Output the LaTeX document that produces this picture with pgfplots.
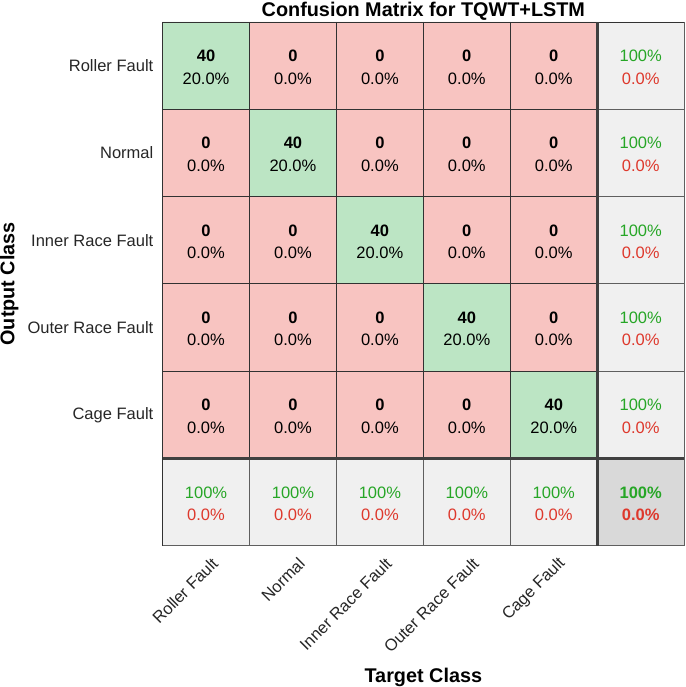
\documentclass[border=0pt]{standalone}
\usepackage{pgfplots}
\pgfplotsset{compat=1.18}
\usepackage{fontspec}
\setmainfont{Liberation Sans}

\definecolor{txtgreen}{RGB}{38,166,38}
\definecolor{txtred}{RGB}{222,56,44}
\definecolor{gridline}{RGB}{50,50,50}
\definecolor{thickline}{RGB}{64,64,64}
\definecolor{greyline}{RGB}{95,95,95}

\newcommand{\cellfont}{\fontsize{16.5}{19}\selectfont}
\newcommand{\labfont}{\bfseries\fontsize{19.8}{23}\selectfont}

\begin{document}
\begin{tikzpicture}
\begin{axis}[
  width=521pt, height=523pt, scale only axis,
  xmin=0.5, xmax=6.5, ymin=0.5, ymax=6.5,
  y dir=reverse,
  axis line style={draw=none},
  major tick length=0pt,
  xtick={1,2,3,4,5}, ytick={1,2,3,4,5},
  xticklabels={Roller Fault,Normal,Inner Race Fault,Outer Race Fault,Cage Fault},
  yticklabels={Roller Fault,Normal,Inner Race Fault,Outer Race Fault,Cage Fault},
  tick label style={font=\cellfont, text=black!85, inner sep=0pt},
  xticklabel style={xshift=9pt, yshift=-15pt, rotate=45, anchor=east},
  yticklabel style={xshift=-9pt, anchor=east},
  title={Confusion Matrix for TQWT+LSTM},
  title style={font=\labfont, at={(axis description cs:0.5,1)}, anchor=base, inner sep=0pt, text height=16pt},
  xlabel={Target Class},
  xlabel style={font=\labfont, at={(axis description cs:0.5,-0.26195)}, anchor=base, inner sep=0pt},
  ylabel={Output Class},
  ylabel style={font=\labfont, at={(axis description cs:-0.28407,0.5)}, anchor=base, inner sep=0pt},
  colormap={conf}{rgb255=(248,196,193) rgb255=(188,229,196) rgb255=(240,240,240) rgb255=(217,217,217)},
  clip=false,
]

% cell backgrounds: 0 wrong, 1 correct, 2 summary, 3 overall
\addplot[matrix plot*, mesh/cols=6, colormap access=direct, point meta=explicit] table[meta=c] {
x y c
1 1 1
2 1 0
3 1 0
4 1 0
5 1 0
6 1 2
1 2 0
2 2 1
3 2 0
4 2 0
5 2 0
6 2 2
1 3 0
2 3 0
3 3 1
4 3 0
5 3 0
6 3 2
1 4 0
2 4 0
3 4 0
4 4 1
5 4 0
6 4 2
1 5 0
2 5 0
3 5 0
4 5 0
5 5 1
6 5 2
1 6 2
2 6 2
3 6 2
4 6 2
5 6 2
6 6 3
};

% grid lines
\pgfplotsinvokeforeach{1.5,2.5,3.5,4.5}{
  \draw[gridline, line width=0.8pt] (axis cs:#1,0.5) -- (axis cs:#1,5.5);
  \draw[gridline, line width=0.8pt] (axis cs:0.5,#1) -- (axis cs:5.5,#1);
  \draw[greyline, line width=0.8pt] (axis cs:#1,5.5) -- (axis cs:#1,6.5);
  \draw[greyline, line width=0.8pt] (axis cs:5.5,#1) -- (axis cs:6.5,#1);
}
\draw[greyline, line width=0.8pt] (axis cs:0.5,6.5) -- (axis cs:6.5,6.5) -- (axis cs:6.5,0.5);
\draw[gridline, line width=0.8pt] (axis cs:0.5,6.5) -- (axis cs:0.5,0.5) -- (axis cs:6.5,0.5);
\draw[thickline, line width=3pt] (axis cs:5.5,0.5) -- (axis cs:5.5,6.5);
\draw[thickline, line width=3pt] (axis cs:0.5,5.5) -- (axis cs:6.5,5.5);

% counts
\addplot[draw=none, mark=none, nodes near coords, point meta=explicit symbolic,
  nodes near coords style={anchor=base, yshift=4pt, inner sep=0pt, font=\cellfont\bfseries, text=black}]
coordinates {
(1,1)[40] (2,1)[0] (3,1)[0] (4,1)[0] (5,1)[0]
(1,2)[0] (2,2)[40] (3,2)[0] (4,2)[0] (5,2)[0]
(1,3)[0] (2,3)[0] (3,3)[40] (4,3)[0] (5,3)[0]
(1,4)[0] (2,4)[0] (3,4)[0] (4,4)[40] (5,4)[0]
(1,5)[0] (2,5)[0] (3,5)[0] (4,5)[0] (5,5)[40]
};
% percentages of total
\addplot[draw=none, mark=none, nodes near coords, point meta=explicit symbolic,
  nodes near coords style={anchor=base, yshift=-18.5pt, inner sep=0pt, font=\cellfont, text=black}]
coordinates {
(1,1)[20.0\%] (2,1)[0.0\%] (3,1)[0.0\%] (4,1)[0.0\%] (5,1)[0.0\%]
(1,2)[0.0\%] (2,2)[20.0\%] (3,2)[0.0\%] (4,2)[0.0\%] (5,2)[0.0\%]
(1,3)[0.0\%] (2,3)[0.0\%] (3,3)[20.0\%] (4,3)[0.0\%] (5,3)[0.0\%]
(1,4)[0.0\%] (2,4)[0.0\%] (3,4)[0.0\%] (4,4)[20.0\%] (5,4)[0.0\%]
(1,5)[0.0\%] (2,5)[0.0\%] (3,5)[0.0\%] (4,5)[0.0\%] (5,5)[20.0\%]
};
% summary: correct rates
\addplot[draw=none, mark=none, nodes near coords, point meta=explicit symbolic,
  nodes near coords style={anchor=base, yshift=4pt, inner sep=0pt, font=\cellfont, text=txtgreen}]
coordinates {
(6,1)[100\%] (6,2)[100\%] (6,3)[100\%] (6,4)[100\%] (6,5)[100\%]
(1,6)[100\%] (2,6)[100\%] (3,6)[100\%] (4,6)[100\%] (5,6)[100\%]
};
% summary: error rates
\addplot[draw=none, mark=none, nodes near coords, point meta=explicit symbolic,
  nodes near coords style={anchor=base, yshift=-18.5pt, inner sep=0pt, font=\cellfont, text=txtred}]
coordinates {
(6,1)[0.0\%] (6,2)[0.0\%] (6,3)[0.0\%] (6,4)[0.0\%] (6,5)[0.0\%]
(1,6)[0.0\%] (2,6)[0.0\%] (3,6)[0.0\%] (4,6)[0.0\%] (5,6)[0.0\%]
};
% overall
\addplot[draw=none, mark=none, nodes near coords, point meta=explicit symbolic,
  nodes near coords style={anchor=base, yshift=4pt, inner sep=0pt, font=\cellfont\bfseries, text=txtgreen}]
coordinates {(6,6)[100\%]};
\addplot[draw=none, mark=none, nodes near coords, point meta=explicit symbolic,
  nodes near coords style={anchor=base, yshift=-18.5pt, inner sep=0pt, font=\cellfont\bfseries, text=txtred}]
coordinates {(6,6)[0.0\%]};

\end{axis}
\end{tikzpicture}
\end{document}
